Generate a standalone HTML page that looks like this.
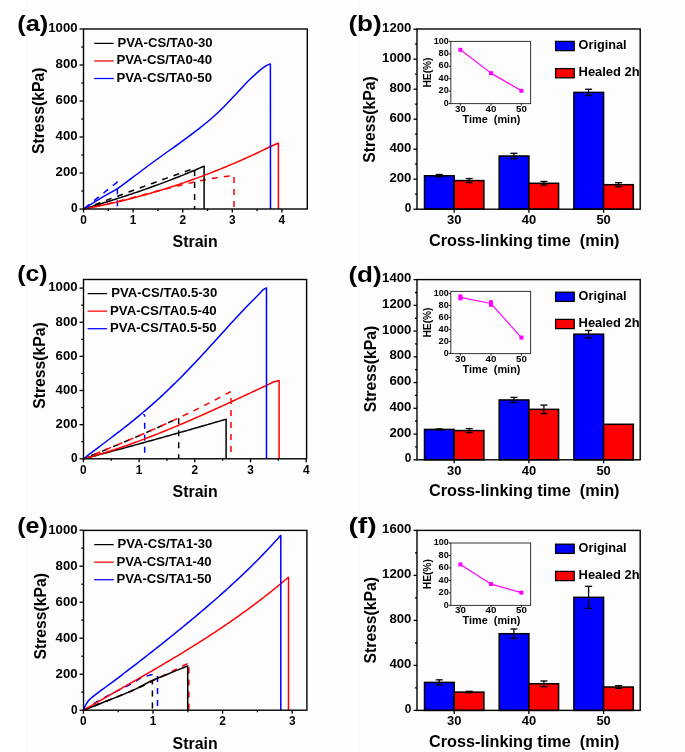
<!DOCTYPE html>
<html><head><meta charset="utf-8"><style>
html,body{margin:0;padding:0;background:#fff;}
svg{display:block;will-change:transform;}
text{font-family:"Liberation Sans", sans-serif;font-weight:bold;}
</style></head><body>
<svg width="685" height="752" viewBox="0 0 685 752">
<rect x="0" y="0" width="685" height="752" fill="#fff"/>
<rect x="26" y="0" width="659" height="752" fill="#fdfdfd"/>
<rect x="25.5" y="0" width="1" height="752" fill="#f9f9f9"/>
<rect x="351.8" y="0" width="6.2" height="752" fill="#fff"/>
<path d="M83.5,209 L85.5,208.62 L87.5,208.23 L89.5,207.84 L91.5,207.43 L93.5,207.02 L95.5,206.59 L97.5,206.16 L99.5,205.72 L101.5,205.28 L103.5,204.82 L105.5,204.36 L107.5,203.89 L109.5,203.42 L111.5,202.94 L113.5,202.46 L115.5,201.97 L117.5,201.47 L119.5,200.97 L121.5,200.47 L123.5,199.96 L125.5,199.45 L127.5,198.93 L129.5,198.41 L131.5,197.89 L133.5,197.37 L135.5,196.84 L137.5,196.32 L139.5,195.79 L141.5,195.26 L143.5,194.73 L145.5,194.2 L147.5,193.67 L149.5,193.14 L151.5,192.61 L153.5,192.08 L155.5,191.56 L157.5,191.03 L159.5,190.51 L161.5,189.99 L163.5,189.47 L165.5,188.95 L167.5,188.44 L169.5,187.93 L171.5,187.43 L173.5,186.93 L175.5,186.43 L177.5,185.94 L179.5,185.45 L181.5,184.97 L183.5,184.5 L185.5,184.03 L187.5,183.56 L189.5,183.11 L191.5,182.66 L193.5,182.22 L195.5,181.79 L197.5,181.36 L199.5,180.94 L201.5,180.54 L203.5,180.14 L205.5,179.75 L207.5,179.37 L209.5,179 L211.5,178.64 L213.5,178.29 L215.5,177.95 L217.5,177.63 L219.5,177.31 L221.5,177.01 L223.5,176.72 L225.5,176.44 L227.5,176.18 L229.5,175.93 L231.5,175.69 L233.5,175.46 L234.1,175.4 L234,175.4 L234,209" fill="none" stroke="#f00" stroke-width="1.5" stroke-dasharray="6,6" stroke-linejoin="round"/>
<path d="M83.5,209 L85.5,208.24 L87.5,207.48 L89.5,206.72 L91.5,205.96 L93.5,205.2 L95.5,204.44 L97.5,203.69 L99.5,202.93 L101.5,202.18 L103.5,201.43 L105.5,200.67 L107.5,199.92 L109.5,199.17 L111.5,198.42 L113.5,197.68 L115.5,196.93 L117.5,196.18 L119.5,195.44 L121.5,194.7 L123.5,193.95 L125.5,193.21 L127.5,192.47 L129.5,191.73 L131.5,190.99 L133.5,190.26 L135.5,189.52 L137.5,188.78 L139.5,188.05 L141.5,187.32 L143.5,186.58 L145.5,185.85 L147.5,185.12 L149.5,184.39 L151.5,183.67 L153.5,182.94 L155.5,182.21 L157.5,181.49 L159.5,180.76 L161.5,180.04 L163.5,179.32 L165.5,178.6 L167.5,177.88 L169.5,177.16 L171.5,176.44 L173.5,175.73 L175.5,175.01 L177.5,174.3 L179.5,173.58 L181.5,172.87 L183.5,172.16 L185.5,171.45 L187.5,170.74 L189.5,170.03 L191.5,169.32 L193.5,168.61 L194.4,168.3 L194.6,168.3 L194.6,209" fill="none" stroke="#000" stroke-width="1.5" stroke-dasharray="6,6" stroke-linejoin="round"/>
<g stroke-dashoffset="10.5">
<polyline points="83.5,209 117.3,182.1 117.4,182.1 117.4,209" fill="none" stroke="#00f" stroke-width="1.5" stroke-dasharray="6,6" stroke-linejoin="round"/>
</g>
<path d="M83.5,209 L85.5,208.4 L87.5,207.81 L89.5,207.21 L91.5,206.6 L93.5,206 L95.5,205.39 L97.5,204.78 L99.5,204.17 L101.5,203.56 L103.5,202.94 L105.5,202.32 L107.5,201.7 L109.5,201.07 L111.5,200.44 L113.5,199.81 L115.5,199.17 L117.5,198.53 L119.5,197.89 L121.5,197.24 L123.5,196.59 L125.5,195.93 L127.5,195.27 L129.5,194.61 L131.5,193.94 L133.5,193.27 L135.5,192.6 L137.5,191.92 L139.5,191.23 L141.5,190.54 L143.5,189.85 L145.5,189.15 L147.5,188.45 L149.5,187.74 L151.5,187.02 L153.5,186.3 L155.5,185.58 L157.5,184.85 L159.5,184.12 L161.5,183.37 L163.5,182.63 L165.5,181.88 L167.5,181.12 L169.5,180.35 L171.5,179.59 L173.5,178.81 L175.5,178.03 L177.5,177.24 L179.5,176.44 L181.5,175.64 L183.5,174.84 L185.5,174.02 L187.5,173.2 L189.5,172.37 L191.5,171.54 L193.5,170.7 L195.5,169.85 L197.5,168.99 L199.5,168.13 L201.5,167.25 L203.5,166.38 L203.9,166.2 L204.1,166.2 L204.1,209" fill="none" stroke="#000" stroke-width="1.5" stroke-linejoin="round"/>
<path d="M83.5,209 L85.5,208.63 L87.5,208.25 L89.5,207.87 L91.5,207.49 L93.5,207.09 L95.5,206.69 L97.5,206.29 L99.5,205.88 L101.5,205.46 L103.5,205.03 L105.5,204.6 L107.5,204.17 L109.5,203.72 L111.5,203.27 L113.5,202.82 L115.5,202.36 L117.5,201.89 L119.5,201.42 L121.5,200.93 L123.5,200.45 L125.5,199.95 L127.5,199.45 L129.5,198.95 L131.5,198.44 L133.5,197.92 L135.5,197.39 L137.5,196.86 L139.5,196.32 L141.5,195.78 L143.5,195.23 L145.5,194.67 L147.5,194.11 L149.5,193.54 L151.5,192.96 L153.5,192.38 L155.5,191.79 L157.5,191.19 L159.5,190.59 L161.5,189.98 L163.5,189.36 L165.5,188.74 L167.5,188.11 L169.5,187.47 L171.5,186.83 L173.5,186.18 L175.5,185.53 L177.5,184.86 L179.5,184.2 L181.5,183.52 L183.5,182.84 L185.5,182.15 L187.5,181.45 L189.5,180.75 L191.5,180.04 L193.5,179.32 L195.5,178.6 L197.5,177.87 L199.5,177.14 L201.5,176.39 L203.5,175.64 L205.5,174.89 L207.5,174.12 L209.5,173.35 L211.5,172.58 L213.5,171.79 L215.5,171 L217.5,170.2 L219.5,169.4 L221.5,168.59 L223.5,167.77 L225.5,166.94 L227.5,166.11 L229.5,165.27 L231.5,164.43 L233.5,163.57 L235.5,162.71 L237.5,161.84 L239.5,160.97 L241.5,160.09 L243.5,159.2 L245.5,158.3 L247.5,157.4 L249.5,156.49 L251.5,155.58 L253.5,154.65 L255.5,153.72 L257.5,152.78 L259.5,151.84 L261.5,150.89 L263.5,149.93 L265.5,148.96 L267.5,147.99 L268.9,147.3 L278,143.2 L278.4,143.2 L278.4,209" fill="none" stroke="#f00" stroke-width="1.5" stroke-linejoin="round"/>
<path d="M83.5,209 C86.25,207.27 94.35,202 100,198.6 C105.65,195.2 111.83,192.23 117.4,188.6 C122.97,184.97 126.85,181.65 133.4,176.8 C139.95,171.95 148.93,165.17 156.7,159.5 C164.47,153.83 172.78,148.08 180,142.8 C187.22,137.52 194.72,131.88 200,127.8 C205.28,123.72 207.62,121.9 211.7,118.3 C215.78,114.7 220.22,110.48 224.5,106.2 C228.78,101.92 233.32,96.92 237.4,92.6 C241.48,88.28 245.5,83.8 249,80.3 C252.5,76.8 255.67,73.95 258.4,71.6 C261.13,69.25 263.65,67.4 265.4,66.2 C267.15,65 268.07,64.75 268.9,64.4 C269.73,64.05 270.15,64.15 270.4,64.1 L270.5,209" fill="none" stroke="#00f" stroke-width="1.5" stroke-linejoin="round"/>
<rect x="83.5" y="29" width="223.8" height="180" fill="none" stroke="#000" stroke-width="1.4"/>
<line x1="79.5" y1="209" x2="83.5" y2="209" stroke="#000" stroke-width="1.3" stroke-linecap="butt"/>
<text x="77.6" y="212.3" font-size="12" text-anchor="end" textLength="6.6" lengthAdjust="spacingAndGlyphs">0</text>
<line x1="79.5" y1="173" x2="83.5" y2="173" stroke="#000" stroke-width="1.3" stroke-linecap="butt"/>
<text x="77.6" y="176.3" font-size="12" text-anchor="end" textLength="22" lengthAdjust="spacingAndGlyphs">200</text>
<line x1="79.5" y1="137" x2="83.5" y2="137" stroke="#000" stroke-width="1.3" stroke-linecap="butt"/>
<text x="77.6" y="140.3" font-size="12" text-anchor="end" textLength="22" lengthAdjust="spacingAndGlyphs">400</text>
<line x1="79.5" y1="101" x2="83.5" y2="101" stroke="#000" stroke-width="1.3" stroke-linecap="butt"/>
<text x="77.6" y="104.3" font-size="12" text-anchor="end" textLength="22" lengthAdjust="spacingAndGlyphs">600</text>
<line x1="79.5" y1="65" x2="83.5" y2="65" stroke="#000" stroke-width="1.3" stroke-linecap="butt"/>
<text x="77.6" y="68.3" font-size="12" text-anchor="end" textLength="22" lengthAdjust="spacingAndGlyphs">800</text>
<line x1="79.5" y1="29" x2="83.5" y2="29" stroke="#000" stroke-width="1.3" stroke-linecap="butt"/>
<text x="77.6" y="32.3" font-size="12" text-anchor="end" textLength="29.3" lengthAdjust="spacingAndGlyphs">1000</text>
<line x1="81.3" y1="191" x2="83.5" y2="191" stroke="#000" stroke-width="1.3" stroke-linecap="butt"/>
<line x1="81.3" y1="155" x2="83.5" y2="155" stroke="#000" stroke-width="1.3" stroke-linecap="butt"/>
<line x1="81.3" y1="119" x2="83.5" y2="119" stroke="#000" stroke-width="1.3" stroke-linecap="butt"/>
<line x1="81.3" y1="83" x2="83.5" y2="83" stroke="#000" stroke-width="1.3" stroke-linecap="butt"/>
<line x1="81.3" y1="47" x2="83.5" y2="47" stroke="#000" stroke-width="1.3" stroke-linecap="butt"/>
<line x1="83.5" y1="209" x2="83.5" y2="212.5" stroke="#000" stroke-width="1.3" stroke-linecap="butt"/>
<text x="83.5" y="224" font-size="12" text-anchor="middle" textLength="6.6" lengthAdjust="spacingAndGlyphs">0</text>
<line x1="133.1" y1="209" x2="133.1" y2="212.5" stroke="#000" stroke-width="1.3" stroke-linecap="butt"/>
<text x="133.1" y="224" font-size="12" text-anchor="middle" textLength="6.6" lengthAdjust="spacingAndGlyphs">1</text>
<line x1="182.7" y1="209" x2="182.7" y2="212.5" stroke="#000" stroke-width="1.3" stroke-linecap="butt"/>
<text x="182.7" y="224" font-size="12" text-anchor="middle" textLength="6.6" lengthAdjust="spacingAndGlyphs">2</text>
<line x1="232.3" y1="209" x2="232.3" y2="212.5" stroke="#000" stroke-width="1.3" stroke-linecap="butt"/>
<text x="232.3" y="224" font-size="12" text-anchor="middle" textLength="6.6" lengthAdjust="spacingAndGlyphs">3</text>
<line x1="281.9" y1="209" x2="281.9" y2="212.5" stroke="#000" stroke-width="1.3" stroke-linecap="butt"/>
<text x="281.9" y="224" font-size="12" text-anchor="middle" textLength="6.6" lengthAdjust="spacingAndGlyphs">4</text>
<line x1="108.3" y1="209" x2="108.3" y2="211" stroke="#000" stroke-width="1.3" stroke-linecap="butt"/>
<line x1="157.9" y1="209" x2="157.9" y2="211" stroke="#000" stroke-width="1.3" stroke-linecap="butt"/>
<line x1="207.5" y1="209" x2="207.5" y2="211" stroke="#000" stroke-width="1.3" stroke-linecap="butt"/>
<line x1="257.1" y1="209" x2="257.1" y2="211" stroke="#000" stroke-width="1.3" stroke-linecap="butt"/>
<line x1="94.2" y1="43.4" x2="113.7" y2="43.4" stroke="#000" stroke-width="1.25" stroke-linecap="butt"/>
<text x="117.6" y="46.8" font-size="12.2" textLength="95" lengthAdjust="spacingAndGlyphs">PVA-CS/TA0-30</text>
<line x1="94.2" y1="60.95" x2="113.7" y2="60.95" stroke="#f00" stroke-width="1.25" stroke-linecap="butt"/>
<text x="116.4" y="64.35" font-size="12.2" textLength="95.6" lengthAdjust="spacingAndGlyphs">PVA-CS/TA0-40</text>
<line x1="94.2" y1="78.5" x2="113.7" y2="78.5" stroke="#00f" stroke-width="1.25" stroke-linecap="butt"/>
<text x="116.4" y="81.9" font-size="12.2" textLength="95.6" lengthAdjust="spacingAndGlyphs">PVA-CS/TA0-50</text>
<text x="43.6" y="110.8" font-size="15.8" text-anchor="middle" textLength="86.5" lengthAdjust="spacingAndGlyphs" transform="rotate(-90 43.6 110.8)">Stress(kPa)</text>
<text x="172.6" y="247.4" font-size="16" textLength="45" lengthAdjust="spacingAndGlyphs">Strain</text>
<text x="17.2" y="31.3" font-size="21.5" textLength="31.1" lengthAdjust="spacingAndGlyphs">(a)</text>
<g stroke-dashoffset="4">
<polyline points="83.5,458.8 85.5,457.99 87.5,457.17 89.5,456.36 91.5,455.55 93.5,454.73 95.5,453.91 97.5,453.09 99.5,452.28 101.5,451.45 103.5,450.63 105.5,449.81 107.5,448.98 109.5,448.16 111.5,447.33 113.5,446.5 115.5,445.67 117.5,444.83 119.5,444 121.5,443.16 123.5,442.32 125.5,441.47 127.5,440.63 129.5,439.78 131.5,438.93 133.5,438.08 135.5,437.22 137.5,436.36 139.5,435.5 141.5,434.63 143.5,433.76 145.5,432.89 147.5,432.02 149.5,431.14 151.5,430.26 153.5,429.37 155.5,428.49 157.5,427.59 159.5,426.7 161.5,425.8 163.5,424.89 165.5,423.99 167.5,423.07 169.5,422.16 171.5,421.24 173.5,420.31 175.5,419.38 177.5,418.45 178.5,417.98 178.7,417.98 178.7,458.8" fill="none" stroke="#000" stroke-width="1.5" stroke-dasharray="6,6" stroke-linejoin="round"/>
</g>
<path d="M83.5,458.8 L85.5,457.99 L87.5,457.17 L89.5,456.36 L91.5,455.55 L93.5,454.73 L95.5,453.91 L97.5,453.09 L99.5,452.28 L101.5,451.45 L103.5,450.63 L105.5,449.81 L107.5,448.98 L109.5,448.16 L111.5,447.33 L113.5,446.5 L115.5,445.67 L117.5,444.83 L119.5,444 L121.5,443.16 L123.5,442.32 L125.5,441.47 L127.5,440.63 L129.5,439.78 L131.5,438.93 L133.5,438.08 L135.5,437.22 L137.5,436.36 L139.5,435.5 L141.5,434.63 L143.5,433.76 L145.5,432.89 L147.5,432.02 L149.5,431.14 L151.5,430.26 L153.5,429.37 L155.5,428.49 L157.5,427.59 L159.5,426.7 L161.5,425.8 L163.5,424.89 L165.5,423.99 L167.5,423.07 L169.5,422.16 L171.5,421.24 L173.5,420.31 L175.5,419.38 L177.5,418.45 L179.5,417.51 L181.5,416.56 L183.5,415.62 L185.5,414.66 L187.5,413.7 L189.5,412.74 L191.5,411.77 L193.5,410.8 L195.5,409.82 L197.5,408.83 L199.5,407.84 L201.5,406.85 L203.5,405.85 L205.5,404.84 L207.5,403.83 L209.5,402.81 L211.5,401.78 L213.5,400.75 L215.5,399.71 L217.5,398.67 L219.5,397.62 L221.5,396.56 L223.5,395.5 L225.5,394.43 L227.5,393.35 L229.5,392.27 L230,392 L231,392 L231,458.8" fill="none" stroke="#f00" stroke-width="1.5" stroke-dasharray="6,6" stroke-linejoin="round"/>
<g stroke-dashoffset="3.1">
<polyline points="143.5,414.3 144.7,415.5 144.7,458.8" fill="none" stroke="#00f" stroke-width="1.5" stroke-dasharray="6,6" stroke-linejoin="round"/>
</g>
<path d="M83.5,458.8 L85.5,458.28 L87.5,457.75 L89.5,457.23 L91.5,456.7 L93.5,456.17 L95.5,455.65 L97.5,455.12 L99.5,454.59 L101.5,454.06 L103.5,453.53 L105.5,452.99 L107.5,452.46 L109.5,451.93 L111.5,451.39 L113.5,450.85 L115.5,450.32 L117.5,449.78 L119.5,449.24 L121.5,448.7 L123.5,448.16 L125.5,447.62 L127.5,447.07 L129.5,446.53 L131.5,445.99 L133.5,445.44 L135.5,444.89 L137.5,444.35 L139.5,443.8 L141.5,443.25 L143.5,442.7 L145.5,442.15 L147.5,441.59 L149.5,441.04 L151.5,440.49 L153.5,439.93 L155.5,439.38 L157.5,438.82 L159.5,438.26 L161.5,437.71 L163.5,437.15 L165.5,436.59 L167.5,436.02 L169.5,435.46 L171.5,434.9 L173.5,434.33 L175.5,433.77 L177.5,433.2 L179.5,432.64 L181.5,432.07 L183.5,431.5 L185.5,430.93 L187.5,430.36 L189.5,429.79 L191.5,429.22 L193.5,428.64 L195.5,428.07 L197.5,427.49 L199.5,426.92 L201.5,426.34 L203.5,425.76 L205.5,425.18 L207.5,424.6 L209.5,424.02 L211.5,423.44 L213.5,422.86 L215.5,422.28 L217.5,421.69 L219.5,421.11 L221.5,420.52 L223.5,419.93 L225.5,419.35 L226,419.2 L226.1,419.2 L226.1,458.8" fill="none" stroke="#000" stroke-width="1.5" stroke-linejoin="round"/>
<path d="M83.5,458.8 L85.5,458.27 L87.5,457.73 L89.5,457.18 L91.5,456.62 L93.5,456.05 L95.5,455.47 L97.5,454.89 L99.5,454.29 L101.5,453.69 L103.5,453.08 L105.5,452.46 L107.5,451.84 L109.5,451.21 L111.5,450.56 L113.5,449.92 L115.5,449.26 L117.5,448.6 L119.5,447.93 L121.5,447.25 L123.5,446.56 L125.5,445.87 L127.5,445.17 L129.5,444.47 L131.5,443.75 L133.5,443.03 L135.5,442.31 L137.5,441.58 L139.5,440.84 L141.5,440.09 L143.5,439.34 L145.5,438.58 L147.5,437.82 L149.5,437.05 L151.5,436.28 L153.5,435.5 L155.5,434.71 L157.5,433.92 L159.5,433.12 L161.5,432.32 L163.5,431.52 L165.5,430.7 L167.5,429.89 L169.5,429.07 L171.5,428.24 L173.5,427.41 L175.5,426.57 L177.5,425.73 L179.5,424.89 L181.5,424.04 L183.5,423.19 L185.5,422.33 L187.5,421.47 L189.5,420.6 L191.5,419.73 L193.5,418.86 L195.5,417.99 L197.5,417.11 L199.5,416.22 L201.5,415.34 L203.5,414.45 L205.5,413.56 L207.5,412.66 L209.5,411.76 L211.5,410.86 L213.5,409.96 L215.5,409.05 L217.5,408.14 L219.5,407.23 L221.5,406.32 L223.5,405.4 L225.5,404.48 L227.5,403.57 L229.5,402.64 L231.5,401.72 L233.5,400.79 L235.5,399.87 L237.5,398.94 L239.5,398.01 L241.5,397.08 L243.5,396.15 L245.5,395.21 L247.5,394.28 L249.5,393.34 L251.5,392.41 L253.5,391.47 L255.5,390.53 L257.5,389.59 L259.5,388.65 L261.5,387.72 L263.5,386.78 L265.5,385.84 L266,385.6 L274,381.8 L279,380.6 L279.1,380.6 L279.1,458.8" fill="none" stroke="#f00" stroke-width="1.5" stroke-linejoin="round"/>
<path d="M83.5,458.8 L85.5,457.23 L87.5,455.67 L89.5,454.13 L91.5,452.6 L93.5,451.07 L95.5,449.55 L97.5,448.04 L99.5,446.53 L101.5,445.02 L103.5,443.51 L105.5,442.01 L107.5,440.5 L109.5,438.99 L111.5,437.48 L113.5,435.96 L115.5,434.44 L117.5,432.91 L119.5,431.37 L121.5,429.83 L123.5,428.27 L125.5,426.71 L127.5,425.13 L129.5,423.54 L131.5,421.94 L133.5,420.33 L135.5,418.7 L137.5,417.06 L139.5,415.4 L141.5,413.73 L143.5,412.05 L145.5,410.34 L147.5,408.62 L149.5,406.89 L151.5,405.13 L153.5,403.36 L155.5,401.57 L157.5,399.76 L159.5,397.94 L161.5,396.1 L163.5,394.24 L165.5,392.36 L167.5,390.46 L169.5,388.55 L171.5,386.61 L173.5,384.66 L175.5,382.7 L177.5,380.71 L179.5,378.71 L181.5,376.7 L183.5,374.66 L185.5,372.62 L187.5,370.55 L189.5,368.47 L191.5,366.38 L193.5,364.28 L195.5,362.16 L197.5,360.03 L199.5,357.89 L201.5,355.74 L203.5,353.58 L205.5,351.41 L207.5,349.23 L209.5,347.04 L211.5,344.85 L213.5,342.66 L215.5,340.46 L217.5,338.25 L219.5,336.05 L221.5,333.84 L223.5,331.64 L225.5,329.44 L227.5,327.24 L229.5,325.05 L231.5,322.86 L233.5,320.68 L235.5,318.51 L237.5,316.35 L239.5,314.2 L241.5,312.07 L243.5,309.95 L245.5,307.85 L247.5,305.77 L249.5,303.71 L251.5,301.67 L253.5,299.66 L255.5,297.67 L257.2,296 L260,293 L263.3,289.6 L266.3,287.9 L266.5,287.9 L266.5,458.8" fill="none" stroke="#00f" stroke-width="1.5" stroke-linejoin="round"/>
<rect x="83.5" y="279.5" width="223.1" height="179.3" fill="none" stroke="#000" stroke-width="1.4"/>
<line x1="79.5" y1="458.8" x2="83.5" y2="458.8" stroke="#000" stroke-width="1.3" stroke-linecap="butt"/>
<text x="77.6" y="462.1" font-size="12" text-anchor="end" textLength="6.6" lengthAdjust="spacingAndGlyphs">0</text>
<line x1="79.5" y1="424.66" x2="83.5" y2="424.66" stroke="#000" stroke-width="1.3" stroke-linecap="butt"/>
<text x="77.6" y="427.96" font-size="12" text-anchor="end" textLength="22" lengthAdjust="spacingAndGlyphs">200</text>
<line x1="79.5" y1="390.52" x2="83.5" y2="390.52" stroke="#000" stroke-width="1.3" stroke-linecap="butt"/>
<text x="77.6" y="393.82" font-size="12" text-anchor="end" textLength="22" lengthAdjust="spacingAndGlyphs">400</text>
<line x1="79.5" y1="356.38" x2="83.5" y2="356.38" stroke="#000" stroke-width="1.3" stroke-linecap="butt"/>
<text x="77.6" y="359.68" font-size="12" text-anchor="end" textLength="22" lengthAdjust="spacingAndGlyphs">600</text>
<line x1="79.5" y1="322.24" x2="83.5" y2="322.24" stroke="#000" stroke-width="1.3" stroke-linecap="butt"/>
<text x="77.6" y="325.54" font-size="12" text-anchor="end" textLength="22" lengthAdjust="spacingAndGlyphs">800</text>
<line x1="79.5" y1="288.1" x2="83.5" y2="288.1" stroke="#000" stroke-width="1.3" stroke-linecap="butt"/>
<text x="77.6" y="291.4" font-size="12" text-anchor="end" textLength="29.3" lengthAdjust="spacingAndGlyphs">1000</text>
<line x1="81.3" y1="441.73" x2="83.5" y2="441.73" stroke="#000" stroke-width="1.3" stroke-linecap="butt"/>
<line x1="81.3" y1="407.59" x2="83.5" y2="407.59" stroke="#000" stroke-width="1.3" stroke-linecap="butt"/>
<line x1="81.3" y1="373.45" x2="83.5" y2="373.45" stroke="#000" stroke-width="1.3" stroke-linecap="butt"/>
<line x1="81.3" y1="339.31" x2="83.5" y2="339.31" stroke="#000" stroke-width="1.3" stroke-linecap="butt"/>
<line x1="81.3" y1="305.17" x2="83.5" y2="305.17" stroke="#000" stroke-width="1.3" stroke-linecap="butt"/>
<line x1="83.4" y1="458.8" x2="83.4" y2="462.3" stroke="#000" stroke-width="1.3" stroke-linecap="butt"/>
<text x="83.4" y="473.8" font-size="12" text-anchor="middle" textLength="6.6" lengthAdjust="spacingAndGlyphs">0</text>
<line x1="139.1" y1="458.8" x2="139.1" y2="462.3" stroke="#000" stroke-width="1.3" stroke-linecap="butt"/>
<text x="139.1" y="473.8" font-size="12" text-anchor="middle" textLength="6.6" lengthAdjust="spacingAndGlyphs">1</text>
<line x1="194.8" y1="458.8" x2="194.8" y2="462.3" stroke="#000" stroke-width="1.3" stroke-linecap="butt"/>
<text x="194.8" y="473.8" font-size="12" text-anchor="middle" textLength="6.6" lengthAdjust="spacingAndGlyphs">2</text>
<line x1="250.5" y1="458.8" x2="250.5" y2="462.3" stroke="#000" stroke-width="1.3" stroke-linecap="butt"/>
<text x="250.5" y="473.8" font-size="12" text-anchor="middle" textLength="6.6" lengthAdjust="spacingAndGlyphs">3</text>
<line x1="306.2" y1="458.8" x2="306.2" y2="462.3" stroke="#000" stroke-width="1.3" stroke-linecap="butt"/>
<text x="306.2" y="473.8" font-size="12" text-anchor="middle" textLength="6.6" lengthAdjust="spacingAndGlyphs">4</text>
<line x1="111.25" y1="458.8" x2="111.25" y2="460.8" stroke="#000" stroke-width="1.3" stroke-linecap="butt"/>
<line x1="166.95" y1="458.8" x2="166.95" y2="460.8" stroke="#000" stroke-width="1.3" stroke-linecap="butt"/>
<line x1="222.65" y1="458.8" x2="222.65" y2="460.8" stroke="#000" stroke-width="1.3" stroke-linecap="butt"/>
<line x1="278.35" y1="458.8" x2="278.35" y2="460.8" stroke="#000" stroke-width="1.3" stroke-linecap="butt"/>
<line x1="87.6" y1="293.6" x2="107.1" y2="293.6" stroke="#000" stroke-width="1.25" stroke-linecap="butt"/>
<text x="111.2" y="297" font-size="12.2" textLength="106" lengthAdjust="spacingAndGlyphs">PVA-CS/TA0.5-30</text>
<line x1="87.6" y1="311.15" x2="107.1" y2="311.15" stroke="#f00" stroke-width="1.25" stroke-linecap="butt"/>
<text x="110" y="314.55" font-size="12.2" textLength="106.6" lengthAdjust="spacingAndGlyphs">PVA-CS/TA0.5-40</text>
<line x1="87.6" y1="328.7" x2="107.1" y2="328.7" stroke="#00f" stroke-width="1.25" stroke-linecap="butt"/>
<text x="110" y="332.1" font-size="12.2" textLength="106.6" lengthAdjust="spacingAndGlyphs">PVA-CS/TA0.5-50</text>
<text x="44.7" y="365.5" font-size="15.8" text-anchor="middle" textLength="86.5" lengthAdjust="spacingAndGlyphs" transform="rotate(-90 44.7 365.5)">Stress(kPa)</text>
<text x="172.6" y="497.2" font-size="16" textLength="45" lengthAdjust="spacingAndGlyphs">Strain</text>
<text x="17.2" y="281.3" font-size="21.5" textLength="30.3" lengthAdjust="spacingAndGlyphs">(c)</text>
<path d="M83.5,710.2 C86.1,709.17 91.15,707.2 99.1,704 C107.05,700.8 122.72,694.67 131.2,691 C139.68,687.33 144.37,684.7 150,682 C155.63,679.3 160.33,677.08 165,674.8 C169.67,672.52 174.05,670.27 178,668.3 C181.95,666.33 186.92,663.88 188.7,663 L188.9,663 L188.9,710.2" fill="none" stroke="#f00" stroke-width="1.5" stroke-dasharray="6,6" stroke-linejoin="round"/>
<path d="M83.5,710.2 C86.1,709.17 91.15,707.18 99.1,704 C107.05,700.82 122.35,694.88 131.2,691.1 C140.05,687.32 148.7,682.93 152.2,681.3 L152.4,681.3 L152.4,710.2" fill="none" stroke="#000" stroke-width="1.5" stroke-dasharray="6,6" stroke-linejoin="round"/>
<path d="M83.5,710.2 C86.1,708.58 93.53,703.67 99.1,700.5 C104.67,697.33 111.42,694.03 116.9,691.2 C122.38,688.37 128.32,685.53 132,683.5 C135.68,681.47 136.67,680.22 139,679 C141.33,677.78 143.67,676.97 146,676.2 C148.33,675.43 151.23,674.6 153,674.4 C154.77,674.2 156,674.9 156.6,675 L157.5,675 L157.5,710.2" fill="none" stroke="#00f" stroke-width="1.5" stroke-dasharray="6,6" stroke-linejoin="round"/>
<path d="M83.5,710.2 C86.1,709.17 91.15,707.18 99.1,704 C107.05,700.82 122.72,694.85 131.2,691.1 C139.68,687.35 144.37,684.15 150,681.5 C155.63,678.85 158.75,677.78 165,675.2 C171.25,672.62 183.75,667.53 187.5,666 L187.7,666 L187.7,710.2" fill="none" stroke="#000" stroke-width="1.5" stroke-linejoin="round"/>
<path d="M83.5,710.2 L85.5,709.03 L87.5,707.87 L89.5,706.71 L91.5,705.55 L93.5,704.4 L95.5,703.25 L97.5,702.09 L99.5,700.94 L101.5,699.8 L103.5,698.65 L105.5,697.5 L107.5,696.36 L109.5,695.22 L111.5,694.07 L113.5,692.93 L115.5,691.79 L117.5,690.65 L119.5,689.51 L121.5,688.37 L123.5,687.22 L125.5,686.08 L127.5,684.94 L129.5,683.8 L131.5,682.65 L133.5,681.51 L135.5,680.36 L137.5,679.22 L139.5,678.07 L141.5,676.92 L143.5,675.77 L145.5,674.61 L147.5,673.46 L149.5,672.3 L151.5,671.14 L153.5,669.98 L155.5,668.81 L157.5,667.64 L159.5,666.47 L161.5,665.3 L163.5,664.12 L165.5,662.94 L167.5,661.75 L169.5,660.56 L171.5,659.37 L173.5,658.17 L175.5,656.97 L177.5,655.77 L179.5,654.56 L181.5,653.34 L183.5,652.12 L185.5,650.9 L187.5,649.67 L189.5,648.43 L191.5,647.19 L193.5,645.95 L195.5,644.69 L197.5,643.44 L199.5,642.17 L201.5,640.9 L203.5,639.62 L205.5,638.34 L207.5,637.05 L209.5,635.75 L211.5,634.45 L213.5,633.13 L215.5,631.82 L217.5,630.49 L219.5,629.15 L221.5,627.81 L223.5,626.46 L225.5,625.1 L227.5,623.74 L229.5,622.36 L231.5,620.98 L233.5,619.58 L235.5,618.18 L237.5,616.77 L239.5,615.35 L241.5,613.92 L243.5,612.48 L245.5,611.03 L247.5,609.57 L249.5,608.1 L251.5,606.62 L253.5,605.13 L255.5,603.63 L257.5,602.12 L259.5,600.6 L261.5,599.07 L263.5,597.52 L265.5,595.97 L267.5,594.4 L269.5,592.82 L271.5,591.23 L273.5,589.63 L275.5,588.01 L277.5,586.39 L279.5,584.75 L281.5,583.1 L283.5,581.43 L285.5,579.75 L287.5,578.06 L288.4,577.3 L288.5,577.3 L288.5,710.2" fill="none" stroke="#f00" stroke-width="1.5" stroke-linejoin="round"/>
<path d="M83.5,710.2 L84.6,707.2 L86.2,704 L88.5,700.6 L92,697.3 L95.5,694.6 L99.1,691.9 L101.1,690.44 L103.1,688.97 L105.1,687.49 L107.1,686.01 L109.1,684.53 L111.1,683.04 L113.1,681.55 L115.1,680.05 L117.1,678.54 L119.1,677.04 L121.1,675.53 L123.1,674.01 L125.1,672.49 L127.1,670.96 L129.1,669.44 L131.1,667.9 L133.1,666.37 L135.1,664.83 L137.1,663.29 L139.1,661.74 L141.1,660.19 L143.1,658.63 L145.1,657.08 L147.1,655.51 L149.1,653.95 L151.1,652.38 L153.1,650.81 L155.1,649.23 L157.1,647.65 L159.1,646.07 L161.1,644.48 L163.1,642.89 L165.1,641.29 L167.1,639.69 L169.1,638.09 L171.1,636.48 L173.1,634.87 L175.1,633.25 L177.1,631.63 L179.1,630 L181.1,628.37 L183.1,626.74 L185.1,625.1 L187.1,623.45 L189.1,621.8 L191.1,620.14 L193.1,618.47 L195.1,616.8 L197.1,615.13 L199.1,613.44 L201.1,611.75 L203.1,610.06 L205.1,608.35 L207.1,606.64 L209.1,604.92 L211.1,603.19 L213.1,601.46 L215.1,599.71 L217.1,597.96 L219.1,596.2 L221.1,594.42 L223.1,592.64 L225.1,590.85 L227.1,589.05 L229.1,587.23 L231.1,585.41 L233.1,583.57 L235.1,581.72 L237.1,579.86 L239.1,577.99 L241.1,576.1 L243.1,574.2 L245.1,572.29 L247.1,570.36 L249.1,568.42 L251.1,566.46 L253.1,564.48 L255.1,562.49 L257.1,560.49 L259.1,558.46 L261.1,556.42 L263.1,554.36 L265.1,552.28 L267.1,550.18 L269.1,548.07 L271.1,545.93 L273.1,543.77 L275.1,541.59 L277.1,539.39 L279.1,537.17 L280.5,535.6 L280.8,535.6 L280.8,710.2" fill="none" stroke="#00f" stroke-width="1.5" stroke-linejoin="round"/>
<rect x="83.5" y="530.4" width="223.4" height="179.8" fill="none" stroke="#000" stroke-width="1.4"/>
<line x1="79.5" y1="710.2" x2="83.5" y2="710.2" stroke="#000" stroke-width="1.3" stroke-linecap="butt"/>
<text x="77.6" y="713.5" font-size="12" text-anchor="end" textLength="6.6" lengthAdjust="spacingAndGlyphs">0</text>
<line x1="79.5" y1="674.2" x2="83.5" y2="674.2" stroke="#000" stroke-width="1.3" stroke-linecap="butt"/>
<text x="77.6" y="677.5" font-size="12" text-anchor="end" textLength="22" lengthAdjust="spacingAndGlyphs">200</text>
<line x1="79.5" y1="638.2" x2="83.5" y2="638.2" stroke="#000" stroke-width="1.3" stroke-linecap="butt"/>
<text x="77.6" y="641.5" font-size="12" text-anchor="end" textLength="22" lengthAdjust="spacingAndGlyphs">400</text>
<line x1="79.5" y1="602.2" x2="83.5" y2="602.2" stroke="#000" stroke-width="1.3" stroke-linecap="butt"/>
<text x="77.6" y="605.5" font-size="12" text-anchor="end" textLength="22" lengthAdjust="spacingAndGlyphs">600</text>
<line x1="79.5" y1="566.2" x2="83.5" y2="566.2" stroke="#000" stroke-width="1.3" stroke-linecap="butt"/>
<text x="77.6" y="569.5" font-size="12" text-anchor="end" textLength="22" lengthAdjust="spacingAndGlyphs">800</text>
<line x1="79.5" y1="530.2" x2="83.5" y2="530.2" stroke="#000" stroke-width="1.3" stroke-linecap="butt"/>
<text x="77.6" y="533.5" font-size="12" text-anchor="end" textLength="29.3" lengthAdjust="spacingAndGlyphs">1000</text>
<line x1="81.3" y1="692.2" x2="83.5" y2="692.2" stroke="#000" stroke-width="1.3" stroke-linecap="butt"/>
<line x1="81.3" y1="656.2" x2="83.5" y2="656.2" stroke="#000" stroke-width="1.3" stroke-linecap="butt"/>
<line x1="81.3" y1="620.2" x2="83.5" y2="620.2" stroke="#000" stroke-width="1.3" stroke-linecap="butt"/>
<line x1="81.3" y1="584.2" x2="83.5" y2="584.2" stroke="#000" stroke-width="1.3" stroke-linecap="butt"/>
<line x1="81.3" y1="548.2" x2="83.5" y2="548.2" stroke="#000" stroke-width="1.3" stroke-linecap="butt"/>
<line x1="83.4" y1="710.2" x2="83.4" y2="713.7" stroke="#000" stroke-width="1.3" stroke-linecap="butt"/>
<text x="83.4" y="725.2" font-size="12" text-anchor="middle" textLength="6.6" lengthAdjust="spacingAndGlyphs">0</text>
<line x1="153" y1="710.2" x2="153" y2="713.7" stroke="#000" stroke-width="1.3" stroke-linecap="butt"/>
<text x="153" y="725.2" font-size="12" text-anchor="middle" textLength="6.6" lengthAdjust="spacingAndGlyphs">1</text>
<line x1="222.6" y1="710.2" x2="222.6" y2="713.7" stroke="#000" stroke-width="1.3" stroke-linecap="butt"/>
<text x="222.6" y="725.2" font-size="12" text-anchor="middle" textLength="6.6" lengthAdjust="spacingAndGlyphs">2</text>
<line x1="292.2" y1="710.2" x2="292.2" y2="713.7" stroke="#000" stroke-width="1.3" stroke-linecap="butt"/>
<text x="292.2" y="725.2" font-size="12" text-anchor="middle" textLength="6.6" lengthAdjust="spacingAndGlyphs">3</text>
<line x1="118.2" y1="710.2" x2="118.2" y2="712.2" stroke="#000" stroke-width="1.3" stroke-linecap="butt"/>
<line x1="187.8" y1="710.2" x2="187.8" y2="712.2" stroke="#000" stroke-width="1.3" stroke-linecap="butt"/>
<line x1="257.4" y1="710.2" x2="257.4" y2="712.2" stroke="#000" stroke-width="1.3" stroke-linecap="butt"/>
<line x1="94.2" y1="544.6" x2="113.7" y2="544.6" stroke="#000" stroke-width="1.25" stroke-linecap="butt"/>
<text x="117.6" y="548" font-size="12.2" textLength="94.6" lengthAdjust="spacingAndGlyphs">PVA-CS/TA1-30</text>
<line x1="94.2" y1="562.15" x2="113.7" y2="562.15" stroke="#f00" stroke-width="1.25" stroke-linecap="butt"/>
<text x="116.4" y="565.55" font-size="12.2" textLength="95.2" lengthAdjust="spacingAndGlyphs">PVA-CS/TA1-40</text>
<line x1="94.2" y1="579.7" x2="113.7" y2="579.7" stroke="#00f" stroke-width="1.25" stroke-linecap="butt"/>
<text x="116.4" y="583.1" font-size="12.2" textLength="95.2" lengthAdjust="spacingAndGlyphs">PVA-CS/TA1-50</text>
<text x="45.9" y="616.3" font-size="15.8" text-anchor="middle" textLength="86.5" lengthAdjust="spacingAndGlyphs" transform="rotate(-90 45.9 616.3)">Stress(kPa)</text>
<text x="172.6" y="748.6" font-size="16" textLength="45" lengthAdjust="spacingAndGlyphs">Strain</text>
<text x="17.2" y="532.5" font-size="21.5" textLength="30.7" lengthAdjust="spacingAndGlyphs">(e)</text>
<rect x="424.5" y="175.79" width="29.7" height="33.41" fill="#00f" stroke="#000" stroke-width="1.5"/>
<rect x="454.2" y="180.59" width="29.7" height="28.6" fill="#f00" stroke="#000" stroke-width="1.5"/>
<rect x="499.2" y="156" width="29.7" height="53.2" fill="#00f" stroke="#000" stroke-width="1.5"/>
<rect x="528.9" y="183.29" width="29.7" height="25.91" fill="#f00" stroke="#000" stroke-width="1.5"/>
<rect x="573.9" y="92.39" width="29.7" height="116.81" fill="#00f" stroke="#000" stroke-width="1.5"/>
<rect x="603.6" y="184.7" width="29.7" height="24.5" fill="#f00" stroke="#000" stroke-width="1.5"/>
<line x1="439.2" y1="174.49" x2="439.2" y2="177.1" stroke="#000" stroke-width="1.3" stroke-linecap="butt"/>
<line x1="435.7" y1="174.49" x2="442.7" y2="174.49" stroke="#000" stroke-width="1.3" stroke-linecap="butt"/>
<line x1="435.7" y1="177.1" x2="442.7" y2="177.1" stroke="#000" stroke-width="1.3" stroke-linecap="butt"/>
<line x1="469.2" y1="178.54" x2="469.2" y2="182.65" stroke="#000" stroke-width="1.3" stroke-linecap="butt"/>
<line x1="465.7" y1="178.54" x2="472.7" y2="178.54" stroke="#000" stroke-width="1.3" stroke-linecap="butt"/>
<line x1="465.7" y1="182.65" x2="472.7" y2="182.65" stroke="#000" stroke-width="1.3" stroke-linecap="butt"/>
<line x1="513.9" y1="153.29" x2="513.9" y2="158.69" stroke="#000" stroke-width="1.3" stroke-linecap="butt"/>
<line x1="510.4" y1="153.29" x2="517.4" y2="153.29" stroke="#000" stroke-width="1.3" stroke-linecap="butt"/>
<line x1="510.4" y1="158.69" x2="517.4" y2="158.69" stroke="#000" stroke-width="1.3" stroke-linecap="butt"/>
<line x1="543.9" y1="181.45" x2="543.9" y2="185.14" stroke="#000" stroke-width="1.3" stroke-linecap="butt"/>
<line x1="540.4" y1="181.45" x2="547.4" y2="181.45" stroke="#000" stroke-width="1.3" stroke-linecap="butt"/>
<line x1="540.4" y1="185.14" x2="547.4" y2="185.14" stroke="#000" stroke-width="1.3" stroke-linecap="butt"/>
<line x1="588.6" y1="89.24" x2="588.6" y2="95.54" stroke="#000" stroke-width="1.3" stroke-linecap="butt"/>
<line x1="585.1" y1="89.24" x2="592.1" y2="89.24" stroke="#000" stroke-width="1.3" stroke-linecap="butt"/>
<line x1="585.1" y1="95.54" x2="592.1" y2="95.54" stroke="#000" stroke-width="1.3" stroke-linecap="butt"/>
<line x1="618.6" y1="182.71" x2="618.6" y2="186.7" stroke="#000" stroke-width="1.3" stroke-linecap="butt"/>
<line x1="615.1" y1="182.71" x2="622.1" y2="182.71" stroke="#000" stroke-width="1.3" stroke-linecap="butt"/>
<line x1="615.1" y1="186.7" x2="622.1" y2="186.7" stroke="#000" stroke-width="1.3" stroke-linecap="butt"/>
<rect x="417" y="29" width="223.2" height="180.2" fill="none" stroke="#000" stroke-width="1.4"/>
<line x1="413.5" y1="209.2" x2="417" y2="209.2" stroke="#000" stroke-width="1.3" stroke-linecap="butt"/>
<text x="411.4" y="211.7" font-size="12" text-anchor="end" textLength="6.6" lengthAdjust="spacingAndGlyphs">0</text>
<line x1="413.5" y1="179.2" x2="417" y2="179.2" stroke="#000" stroke-width="1.3" stroke-linecap="butt"/>
<text x="411.4" y="181.7" font-size="12" text-anchor="end" textLength="22" lengthAdjust="spacingAndGlyphs">200</text>
<line x1="413.5" y1="149.2" x2="417" y2="149.2" stroke="#000" stroke-width="1.3" stroke-linecap="butt"/>
<text x="411.4" y="151.7" font-size="12" text-anchor="end" textLength="22" lengthAdjust="spacingAndGlyphs">400</text>
<line x1="413.5" y1="119.2" x2="417" y2="119.2" stroke="#000" stroke-width="1.3" stroke-linecap="butt"/>
<text x="411.4" y="121.7" font-size="12" text-anchor="end" textLength="22" lengthAdjust="spacingAndGlyphs">600</text>
<line x1="413.5" y1="89.2" x2="417" y2="89.2" stroke="#000" stroke-width="1.3" stroke-linecap="butt"/>
<text x="411.4" y="91.7" font-size="12" text-anchor="end" textLength="22" lengthAdjust="spacingAndGlyphs">800</text>
<line x1="413.5" y1="59.2" x2="417" y2="59.2" stroke="#000" stroke-width="1.3" stroke-linecap="butt"/>
<text x="411.4" y="61.7" font-size="12" text-anchor="end" textLength="29.3" lengthAdjust="spacingAndGlyphs">1000</text>
<line x1="413.5" y1="29.2" x2="417" y2="29.2" stroke="#000" stroke-width="1.3" stroke-linecap="butt"/>
<text x="411.4" y="31.7" font-size="12" text-anchor="end" textLength="29.3" lengthAdjust="spacingAndGlyphs">1200</text>
<line x1="415" y1="194.2" x2="417" y2="194.2" stroke="#000" stroke-width="1.3" stroke-linecap="butt"/>
<line x1="415" y1="164.2" x2="417" y2="164.2" stroke="#000" stroke-width="1.3" stroke-linecap="butt"/>
<line x1="415" y1="134.2" x2="417" y2="134.2" stroke="#000" stroke-width="1.3" stroke-linecap="butt"/>
<line x1="415" y1="104.2" x2="417" y2="104.2" stroke="#000" stroke-width="1.3" stroke-linecap="butt"/>
<line x1="415" y1="74.2" x2="417" y2="74.2" stroke="#000" stroke-width="1.3" stroke-linecap="butt"/>
<line x1="415" y1="44.2" x2="417" y2="44.2" stroke="#000" stroke-width="1.3" stroke-linecap="butt"/>
<line x1="454.2" y1="209.2" x2="454.2" y2="212.7" stroke="#000" stroke-width="1.3" stroke-linecap="butt"/>
<text x="454.2" y="224.2" font-size="12" text-anchor="middle" textLength="14.4" lengthAdjust="spacingAndGlyphs">30</text>
<line x1="528.9" y1="209.2" x2="528.9" y2="212.7" stroke="#000" stroke-width="1.3" stroke-linecap="butt"/>
<text x="528.9" y="224.2" font-size="12" text-anchor="middle" textLength="14.4" lengthAdjust="spacingAndGlyphs">40</text>
<line x1="603.6" y1="209.2" x2="603.6" y2="212.7" stroke="#000" stroke-width="1.3" stroke-linecap="butt"/>
<text x="603.6" y="224.2" font-size="12" text-anchor="middle" textLength="14.4" lengthAdjust="spacingAndGlyphs">50</text>
<rect x="555.6" y="41.4" width="18.6" height="9.2" fill="#00f" stroke="#000" stroke-width="1.3"/>
<rect x="555.6" y="68.6" width="18.6" height="9.2" fill="#f00" stroke="#000" stroke-width="1.3"/>
<text x="578.6" y="49.2" font-size="12.4" textLength="48" lengthAdjust="spacingAndGlyphs">Original</text>
<text x="578.6" y="76.2" font-size="12.4" textLength="61" lengthAdjust="spacingAndGlyphs">Healed 2h</text>
<text x="375.4" y="119.5" font-size="15.8" text-anchor="middle" textLength="86.5" lengthAdjust="spacingAndGlyphs" transform="rotate(-90 375.4 119.5)">Stress(kPa)</text>
<text x="429" y="245.7" font-size="16.2" textLength="190.5" lengthAdjust="spacingAndGlyphs">Cross-linking time  (min)</text>
<text x="348.4" y="31" font-size="21.5" textLength="33.3" lengthAdjust="spacingAndGlyphs">(b)</text>
<rect x="450.8" y="41.4" width="79.8" height="62.2" fill="none" stroke="#333" stroke-width="1"/>
<line x1="448.8" y1="103.6" x2="450.8" y2="103.6" stroke="#000" stroke-width="0.9" stroke-linecap="butt"/>
<text x="448.8" y="105.7" font-size="8.2" text-anchor="end" textLength="5" lengthAdjust="spacingAndGlyphs">0</text>
<line x1="448.8" y1="91.16" x2="450.8" y2="91.16" stroke="#000" stroke-width="0.9" stroke-linecap="butt"/>
<text x="448.8" y="93.26" font-size="8.2" text-anchor="end" textLength="10.2" lengthAdjust="spacingAndGlyphs">20</text>
<line x1="448.8" y1="78.72" x2="450.8" y2="78.72" stroke="#000" stroke-width="0.9" stroke-linecap="butt"/>
<text x="448.8" y="80.82" font-size="8.2" text-anchor="end" textLength="10.2" lengthAdjust="spacingAndGlyphs">40</text>
<line x1="448.8" y1="66.28" x2="450.8" y2="66.28" stroke="#000" stroke-width="0.9" stroke-linecap="butt"/>
<text x="448.8" y="68.38" font-size="8.2" text-anchor="end" textLength="10.2" lengthAdjust="spacingAndGlyphs">60</text>
<line x1="448.8" y1="53.84" x2="450.8" y2="53.84" stroke="#000" stroke-width="0.9" stroke-linecap="butt"/>
<text x="448.8" y="55.94" font-size="8.2" text-anchor="end" textLength="10.2" lengthAdjust="spacingAndGlyphs">80</text>
<line x1="448.8" y1="41.4" x2="450.8" y2="41.4" stroke="#000" stroke-width="0.9" stroke-linecap="butt"/>
<text x="448.8" y="43.5" font-size="8.2" text-anchor="end" textLength="15" lengthAdjust="spacingAndGlyphs">100</text>
<line x1="460.4" y1="103.6" x2="460.4" y2="105.6" stroke="#000" stroke-width="0.9" stroke-linecap="butt"/>
<text x="460.4" y="111.6" font-size="8.4" text-anchor="middle" textLength="10.8" lengthAdjust="spacingAndGlyphs">30</text>
<line x1="491" y1="103.6" x2="491" y2="105.6" stroke="#000" stroke-width="0.9" stroke-linecap="butt"/>
<text x="491" y="111.6" font-size="8.4" text-anchor="middle" textLength="10.8" lengthAdjust="spacingAndGlyphs">40</text>
<line x1="521.4" y1="103.6" x2="521.4" y2="105.6" stroke="#000" stroke-width="0.9" stroke-linecap="butt"/>
<text x="521.4" y="111.6" font-size="8.4" text-anchor="middle" textLength="10.8" lengthAdjust="spacingAndGlyphs">50</text>
<text x="462.6" y="122.5" font-size="10.3" textLength="57.8" lengthAdjust="spacingAndGlyphs">Time  (min)</text>
<text x="430.7" y="72.5" font-size="10.3" text-anchor="middle" textLength="30" lengthAdjust="spacingAndGlyphs" transform="rotate(-90 430.7 72.5)">HE(%)</text>
<polyline points="460.4,49.8 491,73.12 521.4,90.85" fill="none" stroke="#f0f" stroke-width="1.2" stroke-linejoin="round"/>
<rect x="458.4" y="47.8" width="4" height="4" fill="#f0f"/>
<rect x="489" y="71.12" width="4" height="4" fill="#f0f"/>
<rect x="519.4" y="88.85" width="4" height="4" fill="#f0f"/>
<rect x="424.5" y="429.43" width="29.7" height="30.37" fill="#00f" stroke="#000" stroke-width="1.5"/>
<rect x="454.2" y="430.59" width="29.7" height="29.21" fill="#f00" stroke="#000" stroke-width="1.5"/>
<rect x="499.2" y="399.95" width="29.7" height="59.85" fill="#00f" stroke="#000" stroke-width="1.5"/>
<rect x="528.9" y="409.35" width="29.7" height="50.45" fill="#f00" stroke="#000" stroke-width="1.5"/>
<rect x="573.9" y="334.19" width="29.7" height="125.61" fill="#00f" stroke="#000" stroke-width="1.5"/>
<rect x="603.6" y="424.28" width="29.7" height="35.52" fill="#f00" stroke="#000" stroke-width="1.5"/>
<line x1="439.2" y1="428.91" x2="439.2" y2="429.94" stroke="#000" stroke-width="1.3" stroke-linecap="butt"/>
<line x1="435.7" y1="428.91" x2="442.7" y2="428.91" stroke="#000" stroke-width="1.3" stroke-linecap="butt"/>
<line x1="435.7" y1="429.94" x2="442.7" y2="429.94" stroke="#000" stroke-width="1.3" stroke-linecap="butt"/>
<line x1="469.2" y1="428.59" x2="469.2" y2="432.58" stroke="#000" stroke-width="1.3" stroke-linecap="butt"/>
<line x1="465.7" y1="428.59" x2="472.7" y2="428.59" stroke="#000" stroke-width="1.3" stroke-linecap="butt"/>
<line x1="465.7" y1="432.58" x2="472.7" y2="432.58" stroke="#000" stroke-width="1.3" stroke-linecap="butt"/>
<line x1="513.9" y1="397.38" x2="513.9" y2="402.53" stroke="#000" stroke-width="1.3" stroke-linecap="butt"/>
<line x1="510.4" y1="397.38" x2="517.4" y2="397.38" stroke="#000" stroke-width="1.3" stroke-linecap="butt"/>
<line x1="510.4" y1="402.53" x2="517.4" y2="402.53" stroke="#000" stroke-width="1.3" stroke-linecap="butt"/>
<line x1="543.9" y1="405.1" x2="543.9" y2="413.6" stroke="#000" stroke-width="1.3" stroke-linecap="butt"/>
<line x1="540.4" y1="405.1" x2="547.4" y2="405.1" stroke="#000" stroke-width="1.3" stroke-linecap="butt"/>
<line x1="540.4" y1="413.6" x2="547.4" y2="413.6" stroke="#000" stroke-width="1.3" stroke-linecap="butt"/>
<line x1="588.6" y1="330.46" x2="588.6" y2="337.92" stroke="#000" stroke-width="1.3" stroke-linecap="butt"/>
<line x1="585.1" y1="330.46" x2="592.1" y2="330.46" stroke="#000" stroke-width="1.3" stroke-linecap="butt"/>
<line x1="585.1" y1="337.92" x2="592.1" y2="337.92" stroke="#000" stroke-width="1.3" stroke-linecap="butt"/>
<rect x="417" y="279.6" width="223.2" height="180.2" fill="none" stroke="#000" stroke-width="1.4"/>
<line x1="413.5" y1="459.8" x2="417" y2="459.8" stroke="#000" stroke-width="1.3" stroke-linecap="butt"/>
<text x="411.4" y="462.3" font-size="12" text-anchor="end" textLength="6.6" lengthAdjust="spacingAndGlyphs">0</text>
<line x1="413.5" y1="434.06" x2="417" y2="434.06" stroke="#000" stroke-width="1.3" stroke-linecap="butt"/>
<text x="411.4" y="436.56" font-size="12" text-anchor="end" textLength="22" lengthAdjust="spacingAndGlyphs">200</text>
<line x1="413.5" y1="408.32" x2="417" y2="408.32" stroke="#000" stroke-width="1.3" stroke-linecap="butt"/>
<text x="411.4" y="410.82" font-size="12" text-anchor="end" textLength="22" lengthAdjust="spacingAndGlyphs">400</text>
<line x1="413.5" y1="382.58" x2="417" y2="382.58" stroke="#000" stroke-width="1.3" stroke-linecap="butt"/>
<text x="411.4" y="385.08" font-size="12" text-anchor="end" textLength="22" lengthAdjust="spacingAndGlyphs">600</text>
<line x1="413.5" y1="356.84" x2="417" y2="356.84" stroke="#000" stroke-width="1.3" stroke-linecap="butt"/>
<text x="411.4" y="359.34" font-size="12" text-anchor="end" textLength="22" lengthAdjust="spacingAndGlyphs">800</text>
<line x1="413.5" y1="331.1" x2="417" y2="331.1" stroke="#000" stroke-width="1.3" stroke-linecap="butt"/>
<text x="411.4" y="333.6" font-size="12" text-anchor="end" textLength="29.3" lengthAdjust="spacingAndGlyphs">1000</text>
<line x1="413.5" y1="305.36" x2="417" y2="305.36" stroke="#000" stroke-width="1.3" stroke-linecap="butt"/>
<text x="411.4" y="307.86" font-size="12" text-anchor="end" textLength="29.3" lengthAdjust="spacingAndGlyphs">1200</text>
<line x1="413.5" y1="279.62" x2="417" y2="279.62" stroke="#000" stroke-width="1.3" stroke-linecap="butt"/>
<text x="411.4" y="282.12" font-size="12" text-anchor="end" textLength="29.3" lengthAdjust="spacingAndGlyphs">1400</text>
<line x1="415" y1="446.93" x2="417" y2="446.93" stroke="#000" stroke-width="1.3" stroke-linecap="butt"/>
<line x1="415" y1="421.19" x2="417" y2="421.19" stroke="#000" stroke-width="1.3" stroke-linecap="butt"/>
<line x1="415" y1="395.45" x2="417" y2="395.45" stroke="#000" stroke-width="1.3" stroke-linecap="butt"/>
<line x1="415" y1="369.71" x2="417" y2="369.71" stroke="#000" stroke-width="1.3" stroke-linecap="butt"/>
<line x1="415" y1="343.97" x2="417" y2="343.97" stroke="#000" stroke-width="1.3" stroke-linecap="butt"/>
<line x1="415" y1="318.23" x2="417" y2="318.23" stroke="#000" stroke-width="1.3" stroke-linecap="butt"/>
<line x1="415" y1="292.49" x2="417" y2="292.49" stroke="#000" stroke-width="1.3" stroke-linecap="butt"/>
<line x1="454.2" y1="459.8" x2="454.2" y2="463.3" stroke="#000" stroke-width="1.3" stroke-linecap="butt"/>
<text x="454.2" y="474.8" font-size="12" text-anchor="middle" textLength="14.4" lengthAdjust="spacingAndGlyphs">30</text>
<line x1="528.9" y1="459.8" x2="528.9" y2="463.3" stroke="#000" stroke-width="1.3" stroke-linecap="butt"/>
<text x="528.9" y="474.8" font-size="12" text-anchor="middle" textLength="14.4" lengthAdjust="spacingAndGlyphs">40</text>
<line x1="603.6" y1="459.8" x2="603.6" y2="463.3" stroke="#000" stroke-width="1.3" stroke-linecap="butt"/>
<text x="603.6" y="474.8" font-size="12" text-anchor="middle" textLength="14.4" lengthAdjust="spacingAndGlyphs">50</text>
<rect x="555.6" y="292.2" width="18.6" height="9.2" fill="#00f" stroke="#000" stroke-width="1.3"/>
<rect x="555.6" y="319.4" width="18.6" height="9.2" fill="#f00" stroke="#000" stroke-width="1.3"/>
<text x="578.6" y="300" font-size="12.4" textLength="48" lengthAdjust="spacingAndGlyphs">Original</text>
<text x="578.6" y="327" font-size="12.4" textLength="61" lengthAdjust="spacingAndGlyphs">Healed 2h</text>
<text x="375.8" y="369.1" font-size="15.8" text-anchor="middle" textLength="86.5" lengthAdjust="spacingAndGlyphs" transform="rotate(-90 375.8 369.1)">Stress(kPa)</text>
<text x="429" y="496.3" font-size="16.2" textLength="190.5" lengthAdjust="spacingAndGlyphs">Cross-linking time  (min)</text>
<text x="348.4" y="281.5" font-size="21.5" textLength="33.3" lengthAdjust="spacingAndGlyphs">(d)</text>
<rect x="450.8" y="291.4" width="79.8" height="62.2" fill="none" stroke="#333" stroke-width="1"/>
<line x1="448.8" y1="353.6" x2="450.8" y2="353.6" stroke="#000" stroke-width="0.9" stroke-linecap="butt"/>
<text x="448.8" y="355.7" font-size="8.2" text-anchor="end" textLength="5" lengthAdjust="spacingAndGlyphs">0</text>
<line x1="448.8" y1="341.59" x2="450.8" y2="341.59" stroke="#000" stroke-width="0.9" stroke-linecap="butt"/>
<text x="448.8" y="343.69" font-size="8.2" text-anchor="end" textLength="10.2" lengthAdjust="spacingAndGlyphs">20</text>
<line x1="448.8" y1="329.58" x2="450.8" y2="329.58" stroke="#000" stroke-width="0.9" stroke-linecap="butt"/>
<text x="448.8" y="331.68" font-size="8.2" text-anchor="end" textLength="10.2" lengthAdjust="spacingAndGlyphs">40</text>
<line x1="448.8" y1="317.58" x2="450.8" y2="317.58" stroke="#000" stroke-width="0.9" stroke-linecap="butt"/>
<text x="448.8" y="319.68" font-size="8.2" text-anchor="end" textLength="10.2" lengthAdjust="spacingAndGlyphs">60</text>
<line x1="448.8" y1="305.57" x2="450.8" y2="305.57" stroke="#000" stroke-width="0.9" stroke-linecap="butt"/>
<text x="448.8" y="307.67" font-size="8.2" text-anchor="end" textLength="10.2" lengthAdjust="spacingAndGlyphs">80</text>
<line x1="448.8" y1="293.56" x2="450.8" y2="293.56" stroke="#000" stroke-width="0.9" stroke-linecap="butt"/>
<text x="448.8" y="295.66" font-size="8.2" text-anchor="end" textLength="15" lengthAdjust="spacingAndGlyphs">100</text>
<line x1="460.4" y1="353.6" x2="460.4" y2="355.6" stroke="#000" stroke-width="0.9" stroke-linecap="butt"/>
<text x="460.4" y="361.6" font-size="8.4" text-anchor="middle" textLength="10.8" lengthAdjust="spacingAndGlyphs">30</text>
<line x1="491" y1="353.6" x2="491" y2="355.6" stroke="#000" stroke-width="0.9" stroke-linecap="butt"/>
<text x="491" y="361.6" font-size="8.4" text-anchor="middle" textLength="10.8" lengthAdjust="spacingAndGlyphs">40</text>
<line x1="521.4" y1="353.6" x2="521.4" y2="355.6" stroke="#000" stroke-width="0.9" stroke-linecap="butt"/>
<text x="521.4" y="361.6" font-size="8.4" text-anchor="middle" textLength="10.8" lengthAdjust="spacingAndGlyphs">50</text>
<text x="462.6" y="372.5" font-size="10.3" textLength="57.8" lengthAdjust="spacingAndGlyphs">Time  (min)</text>
<text x="430.7" y="322.5" font-size="10.3" text-anchor="middle" textLength="30" lengthAdjust="spacingAndGlyphs" transform="rotate(-90 430.7 322.5)">HE(%)</text>
<polyline points="460.4,297.4 491,303.53 521.4,337.57" fill="none" stroke="#f0f" stroke-width="1.2" stroke-linejoin="round"/>
<line x1="460.4" y1="294.4" x2="460.4" y2="300.41" stroke="#f0f" stroke-width="3.8" stroke-linecap="butt"/>
<rect x="458.4" y="295.4" width="4" height="4" fill="#f0f"/>
<line x1="491" y1="300.17" x2="491" y2="306.89" stroke="#f0f" stroke-width="3.8" stroke-linecap="butt"/>
<rect x="489" y="301.53" width="4" height="4" fill="#f0f"/>
<rect x="519.4" y="335.57" width="4" height="4" fill="#f0f"/>
<rect x="424.5" y="682.39" width="29.7" height="28.01" fill="#00f" stroke="#000" stroke-width="1.5"/>
<rect x="454.2" y="692.1" width="29.7" height="18.3" fill="#f00" stroke="#000" stroke-width="1.5"/>
<rect x="499.2" y="633.7" width="29.7" height="76.7" fill="#00f" stroke="#000" stroke-width="1.5"/>
<rect x="528.9" y="683.8" width="29.7" height="26.6" fill="#f00" stroke="#000" stroke-width="1.5"/>
<rect x="573.9" y="597.34" width="29.7" height="113.06" fill="#00f" stroke="#000" stroke-width="1.5"/>
<rect x="603.6" y="687" width="29.7" height="23.4" fill="#f00" stroke="#000" stroke-width="1.5"/>
<line x1="439.2" y1="679.83" x2="439.2" y2="684.94" stroke="#000" stroke-width="1.3" stroke-linecap="butt"/>
<line x1="435.7" y1="679.83" x2="442.7" y2="679.83" stroke="#000" stroke-width="1.3" stroke-linecap="butt"/>
<line x1="435.7" y1="684.94" x2="442.7" y2="684.94" stroke="#000" stroke-width="1.3" stroke-linecap="butt"/>
<line x1="469.2" y1="691.31" x2="469.2" y2="692.88" stroke="#000" stroke-width="1.3" stroke-linecap="butt"/>
<line x1="465.7" y1="691.31" x2="472.7" y2="691.31" stroke="#000" stroke-width="1.3" stroke-linecap="butt"/>
<line x1="465.7" y1="692.88" x2="472.7" y2="692.88" stroke="#000" stroke-width="1.3" stroke-linecap="butt"/>
<line x1="513.9" y1="628.97" x2="513.9" y2="638.42" stroke="#000" stroke-width="1.3" stroke-linecap="butt"/>
<line x1="510.4" y1="628.97" x2="517.4" y2="628.97" stroke="#000" stroke-width="1.3" stroke-linecap="butt"/>
<line x1="510.4" y1="638.42" x2="517.4" y2="638.42" stroke="#000" stroke-width="1.3" stroke-linecap="butt"/>
<line x1="543.9" y1="680.99" x2="543.9" y2="686.62" stroke="#000" stroke-width="1.3" stroke-linecap="butt"/>
<line x1="540.4" y1="680.99" x2="547.4" y2="680.99" stroke="#000" stroke-width="1.3" stroke-linecap="butt"/>
<line x1="540.4" y1="686.62" x2="547.4" y2="686.62" stroke="#000" stroke-width="1.3" stroke-linecap="butt"/>
<line x1="588.6" y1="586.31" x2="588.6" y2="608.36" stroke="#000" stroke-width="1.3" stroke-linecap="butt"/>
<line x1="585.1" y1="586.31" x2="592.1" y2="586.31" stroke="#000" stroke-width="1.3" stroke-linecap="butt"/>
<line x1="585.1" y1="608.36" x2="592.1" y2="608.36" stroke="#000" stroke-width="1.3" stroke-linecap="butt"/>
<line x1="618.6" y1="685.69" x2="618.6" y2="688.3" stroke="#000" stroke-width="1.3" stroke-linecap="butt"/>
<line x1="615.1" y1="685.69" x2="622.1" y2="685.69" stroke="#000" stroke-width="1.3" stroke-linecap="butt"/>
<line x1="615.1" y1="688.3" x2="622.1" y2="688.3" stroke="#000" stroke-width="1.3" stroke-linecap="butt"/>
<rect x="417" y="530.4" width="223.2" height="180" fill="none" stroke="#000" stroke-width="1.4"/>
<line x1="413.5" y1="710.4" x2="417" y2="710.4" stroke="#000" stroke-width="1.3" stroke-linecap="butt"/>
<text x="411.4" y="712.9" font-size="12" text-anchor="end" textLength="6.6" lengthAdjust="spacingAndGlyphs">0</text>
<line x1="413.5" y1="665.4" x2="417" y2="665.4" stroke="#000" stroke-width="1.3" stroke-linecap="butt"/>
<text x="411.4" y="667.9" font-size="12" text-anchor="end" textLength="22" lengthAdjust="spacingAndGlyphs">400</text>
<line x1="413.5" y1="620.4" x2="417" y2="620.4" stroke="#000" stroke-width="1.3" stroke-linecap="butt"/>
<text x="411.4" y="622.9" font-size="12" text-anchor="end" textLength="22" lengthAdjust="spacingAndGlyphs">800</text>
<line x1="413.5" y1="575.4" x2="417" y2="575.4" stroke="#000" stroke-width="1.3" stroke-linecap="butt"/>
<text x="411.4" y="577.9" font-size="12" text-anchor="end" textLength="29.3" lengthAdjust="spacingAndGlyphs">1200</text>
<line x1="413.5" y1="530.4" x2="417" y2="530.4" stroke="#000" stroke-width="1.3" stroke-linecap="butt"/>
<text x="411.4" y="532.9" font-size="12" text-anchor="end" textLength="29.3" lengthAdjust="spacingAndGlyphs">1600</text>
<line x1="415" y1="687.9" x2="417" y2="687.9" stroke="#000" stroke-width="1.3" stroke-linecap="butt"/>
<line x1="415" y1="642.9" x2="417" y2="642.9" stroke="#000" stroke-width="1.3" stroke-linecap="butt"/>
<line x1="415" y1="597.9" x2="417" y2="597.9" stroke="#000" stroke-width="1.3" stroke-linecap="butt"/>
<line x1="415" y1="552.9" x2="417" y2="552.9" stroke="#000" stroke-width="1.3" stroke-linecap="butt"/>
<line x1="454.2" y1="710.4" x2="454.2" y2="713.9" stroke="#000" stroke-width="1.3" stroke-linecap="butt"/>
<text x="454.2" y="725.4" font-size="12" text-anchor="middle" textLength="14.4" lengthAdjust="spacingAndGlyphs">30</text>
<line x1="528.9" y1="710.4" x2="528.9" y2="713.9" stroke="#000" stroke-width="1.3" stroke-linecap="butt"/>
<text x="528.9" y="725.4" font-size="12" text-anchor="middle" textLength="14.4" lengthAdjust="spacingAndGlyphs">40</text>
<line x1="603.6" y1="710.4" x2="603.6" y2="713.9" stroke="#000" stroke-width="1.3" stroke-linecap="butt"/>
<text x="603.6" y="725.4" font-size="12" text-anchor="middle" textLength="14.4" lengthAdjust="spacingAndGlyphs">50</text>
<rect x="555.6" y="544.2" width="18.6" height="9.2" fill="#00f" stroke="#000" stroke-width="1.3"/>
<rect x="555.6" y="571.4" width="18.6" height="9.2" fill="#f00" stroke="#000" stroke-width="1.3"/>
<text x="578.6" y="552" font-size="12.4" textLength="48" lengthAdjust="spacingAndGlyphs">Original</text>
<text x="578.6" y="579" font-size="12.4" textLength="61" lengthAdjust="spacingAndGlyphs">Healed 2h</text>
<text x="375.8" y="620.2" font-size="15.8" text-anchor="middle" textLength="86.5" lengthAdjust="spacingAndGlyphs" transform="rotate(-90 375.8 620.2)">Stress(kPa)</text>
<text x="429" y="746.9" font-size="16.2" textLength="190.5" lengthAdjust="spacingAndGlyphs">Cross-linking time  (min)</text>
<text x="348.4" y="533.3" font-size="21.5" textLength="28.2" lengthAdjust="spacingAndGlyphs">(f)</text>
<rect x="450.8" y="543" width="79.8" height="62.4" fill="none" stroke="#333" stroke-width="1"/>
<line x1="448.8" y1="605.4" x2="450.8" y2="605.4" stroke="#000" stroke-width="0.9" stroke-linecap="butt"/>
<text x="448.8" y="607.5" font-size="8.2" text-anchor="end" textLength="5" lengthAdjust="spacingAndGlyphs">0</text>
<line x1="448.8" y1="592.92" x2="450.8" y2="592.92" stroke="#000" stroke-width="0.9" stroke-linecap="butt"/>
<text x="448.8" y="595.02" font-size="8.2" text-anchor="end" textLength="10.2" lengthAdjust="spacingAndGlyphs">20</text>
<line x1="448.8" y1="580.44" x2="450.8" y2="580.44" stroke="#000" stroke-width="0.9" stroke-linecap="butt"/>
<text x="448.8" y="582.54" font-size="8.2" text-anchor="end" textLength="10.2" lengthAdjust="spacingAndGlyphs">40</text>
<line x1="448.8" y1="567.96" x2="450.8" y2="567.96" stroke="#000" stroke-width="0.9" stroke-linecap="butt"/>
<text x="448.8" y="570.06" font-size="8.2" text-anchor="end" textLength="10.2" lengthAdjust="spacingAndGlyphs">60</text>
<line x1="448.8" y1="555.48" x2="450.8" y2="555.48" stroke="#000" stroke-width="0.9" stroke-linecap="butt"/>
<text x="448.8" y="557.58" font-size="8.2" text-anchor="end" textLength="10.2" lengthAdjust="spacingAndGlyphs">80</text>
<line x1="448.8" y1="543" x2="450.8" y2="543" stroke="#000" stroke-width="0.9" stroke-linecap="butt"/>
<text x="448.8" y="545.1" font-size="8.2" text-anchor="end" textLength="15" lengthAdjust="spacingAndGlyphs">100</text>
<line x1="460.4" y1="605.4" x2="460.4" y2="607.4" stroke="#000" stroke-width="0.9" stroke-linecap="butt"/>
<text x="460.4" y="613.4" font-size="8.4" text-anchor="middle" textLength="10.8" lengthAdjust="spacingAndGlyphs">30</text>
<line x1="491" y1="605.4" x2="491" y2="607.4" stroke="#000" stroke-width="0.9" stroke-linecap="butt"/>
<text x="491" y="613.4" font-size="8.4" text-anchor="middle" textLength="10.8" lengthAdjust="spacingAndGlyphs">40</text>
<line x1="521.4" y1="605.4" x2="521.4" y2="607.4" stroke="#000" stroke-width="0.9" stroke-linecap="butt"/>
<text x="521.4" y="613.4" font-size="8.4" text-anchor="middle" textLength="10.8" lengthAdjust="spacingAndGlyphs">50</text>
<text x="462.6" y="624.3" font-size="10.3" textLength="57.8" lengthAdjust="spacingAndGlyphs">Time  (min)</text>
<text x="430.7" y="574.2" font-size="10.3" text-anchor="middle" textLength="30" lengthAdjust="spacingAndGlyphs" transform="rotate(-90 430.7 574.2)">HE(%)</text>
<polyline points="460.4,564.47 491,584.06 521.4,592.61" fill="none" stroke="#f0f" stroke-width="1.2" stroke-linejoin="round"/>
<rect x="458.4" y="562.47" width="4" height="4" fill="#f0f"/>
<rect x="489" y="582.06" width="4" height="4" fill="#f0f"/>
<rect x="519.4" y="590.61" width="4" height="4" fill="#f0f"/>
</svg>
</body></html>
